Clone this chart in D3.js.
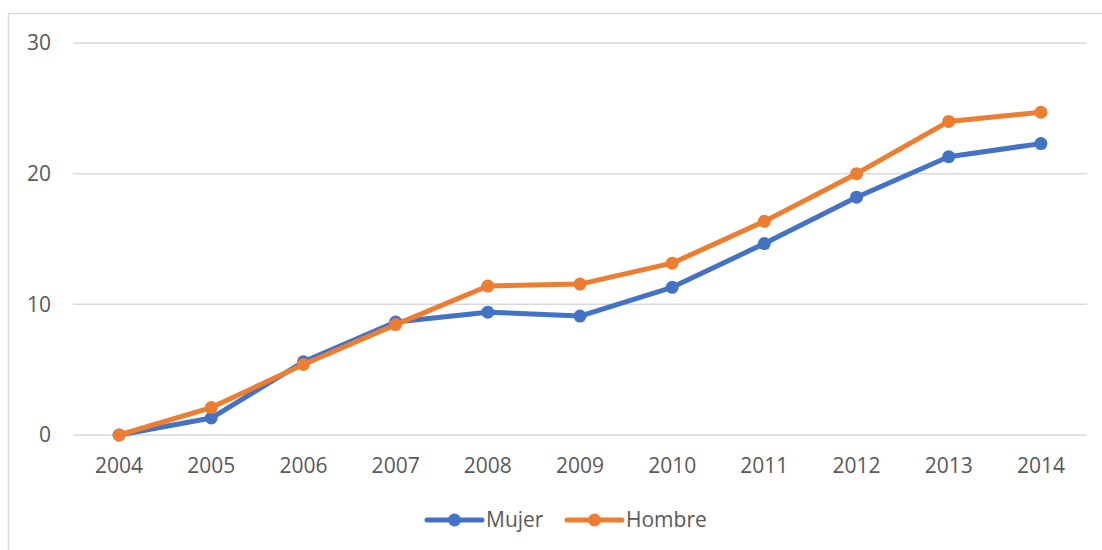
<!DOCTYPE html>
<html>
<head>
<meta charset="utf-8">
<script src="https://cdn.jsdelivr.net/npm/d3@7"></script>
<style>
  body { margin: 0; background: #fff; }
  text { font-family: "Open Sans", sans-serif; fill: #595959; }
</style>
</head>
<body>
<div id="chart"></div>
<script>
var years = ["2004", "2005", "2006", "2007", "2008", "2009", "2010", "2011", "2012", "2013", "2014"];
var mujer = [0, 1.3, 5.6, 8.65, 9.4, 9.1, 11.3, 14.65, 18.2, 21.3, 22.3];
var hombre = [0, 2.1, 5.4, 8.45, 11.4, 11.55, 13.15, 16.35, 20.0, 24.0, 24.7];
var yTicks = [0, 10, 20, 30];
var seriesNames = ["Mujer", "Hombre"];
var colors = ["#4472C4", "#ED7D31"];

var width = 1102, height = 550;

var svg = d3.select("#chart")
  .append("svg")
  .attr("width", width)
  .attr("height", height);

// chart frame
svg.append("rect")
  .attr("x", 8.5)
  .attr("y", 13.5)
  .attr("width", 1120)
  .attr("height", 600)
  .attr("fill", "none")
  .attr("stroke", "#d9d9d9")
  .attr("stroke-width", 1.5);

var x = d3.scaleBand()
  .domain(years)
  .range([73, 1087]);

var y = d3.scaleLinear()
  .domain([0, 30])
  .range([435, 43]);

// gridlines
svg.append("g")
  .selectAll("line")
  .data(yTicks)
  .enter()
  .append("line")
  .attr("x1", 73)
  .attr("x2", 1087)
  .attr("y1", function(d){ return y(d); })
  .attr("y2", function(d){ return y(d); })
  .attr("stroke", "#d9d9d9")
  .attr("stroke-width", 1.5);

// y labels
var yAxis = svg.append("g")
  .attr("transform", "translate(59,0)")
  .call(d3.axisLeft(y).tickValues(yTicks).tickSize(0).tickPadding(8));
yAxis.select(".domain").remove();
yAxis.selectAll("text")
  .style("font-size", "21px")
  .style("font-family", "'Open Sans', sans-serif")
  .attr("fill", "#595959");

// x labels
var xAxis = svg.append("g")
  .attr("transform", "translate(0,435)")
  .call(d3.axisBottom(x).tickSize(0).tickPadding(23));
xAxis.select(".domain").remove();
xAxis.selectAll("text")
  .style("font-size", "21px")
  .style("font-family", "'Open Sans', sans-serif")
  .attr("fill", "#595959");

var allSeries = [mujer, hombre];
var line = d3.line()
  .x(function(d, i){ return x(years[i]) + x.bandwidth() / 2; })
  .y(function(d){ return y(d); });

allSeries.forEach(function(values, s){
  svg.append("path")
    .datum(values)
    .attr("d", line)
    .attr("fill", "none")
    .attr("stroke", colors[s])
    .attr("stroke-width", 5)
    .attr("stroke-linejoin", "round")
    .attr("stroke-linecap", "round");

  svg.append("g")
    .selectAll("circle")
    .data(values)
    .enter()
    .append("circle")
    .attr("cx", function(d, i){ return x(years[i]) + x.bandwidth() / 2; })
    .attr("cy", function(d){ return y(d); })
    .attr("r", 6.5)
    .attr("fill", colors[s]);
});

// legend
var legendX = [427, 567];
var legend = svg.append("g");
seriesNames.forEach(function(name, s){
  var lx = legendX[s];
  legend.append("line")
    .attr("x1", lx)
    .attr("x2", lx + 55)
    .attr("y1", 520)
    .attr("y2", 520)
    .attr("stroke", colors[s])
    .attr("stroke-width", 5)
    .attr("stroke-linecap", "round");
  legend.append("circle")
    .attr("cx", lx + 27.5)
    .attr("cy", 520)
    .attr("r", 6.5)
    .attr("fill", colors[s]);
  legend.append("text")
    .attr("x", lx + 59)
    .attr("y", 520)
    .attr("dy", "0.35em")
    .style("font-size", "21px")
    .text(name);
});
</script>
</body>
</html>
